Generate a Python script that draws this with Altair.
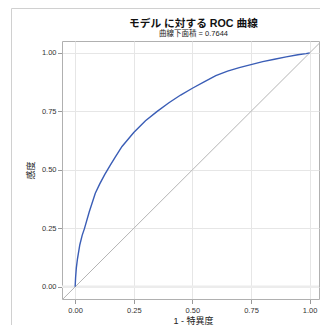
import altair as alt
import pandas as pd

# ROC curve points (1 - specificity, sensitivity)
fpr = [0.0, 0.002, 0.005, 0.010, 0.020, 0.030, 0.040, 0.060, 0.086, 0.105, 0.126,
       0.150, 0.171, 0.200, 0.250, 0.300, 0.350, 0.400, 0.450, 0.500, 0.550,
       0.600, 0.650, 0.700, 0.750, 0.800, 0.850, 0.900, 0.950, 0.985, 1.0]
tpr = [0.0, 0.04, 0.08, 0.12, 0.18, 0.22, 0.25, 0.32, 0.40, 0.44, 0.48,
       0.52, 0.555, 0.60, 0.66, 0.71, 0.75, 0.787, 0.82, 0.849, 0.876,
       0.903, 0.922, 0.937, 0.950, 0.963, 0.973, 0.983, 0.992, 0.997, 1.0]
diag = [-0.1, 1.1]
ticks = [0.0, 0.25, 0.5, 0.75, 1.0]
zero_ref = [0.0]

title_main = "モデル に対する ROC 曲線"
title_sub = "曲線下面積 = 0.7644"
x_title = "1 - 特異度"
y_title = "感度"

FONT = "Liberation Sans, Noto Sans CJK JP, sans-serif"

roc = pd.DataFrame({"fpr": fpr, "tpr": tpr})
dg = pd.DataFrame({"a": diag, "b": diag})
zr = pd.DataFrame({"y": zero_ref})

W, H = 257, 258

xs = alt.Scale(domain=[-0.056, 1.04], nice=False, zero=False)
ys = alt.Scale(domain=[-0.052, 1.051], nice=False, zero=False)

xaxis = alt.Axis(values=ticks, format=".2f", title=x_title, titleX=131, titleY=21.5,
                 titleBaseline="middle", titleAlign="center", labelPadding=3)
yaxis = alt.Axis(values=ticks, format=".2f", title=y_title, titleX=-32, titleY=H / 2,
                 titleBaseline="middle", titleAlign="center", titleAngle=-90,
                 labelPadding=1.5)

zero_band = alt.Chart(zr).mark_rule(color="#ececec", strokeWidth=2.5).encode(
    y=alt.Y("y:Q", scale=ys, axis=yaxis)
)

diag_line = alt.Chart(dg).mark_line(color="#b4b4b4", strokeWidth=1, clip=True).encode(
    x=alt.X("a:Q", scale=xs, axis=xaxis),
    y=alt.Y("b:Q", scale=ys, axis=yaxis),
)

curve = alt.Chart(roc).mark_line(color="#3A5DB6", strokeWidth=1.4, clip=True).encode(
    x=alt.X("fpr:Q", scale=xs, axis=xaxis),
    y=alt.Y("tpr:Q", scale=ys, axis=yaxis),
    order="fpr:Q",
)

frame = alt.Chart(zr).mark_rect(fillOpacity=0, stroke="#d0d0d0", strokeWidth=1, clip=False).encode(
    x=alt.value(-50.5), x2=alt.value(300), y=alt.value(-32.5), y2=alt.value(400)
)

chart = alt.layer(zero_band, diag_line, curve, frame).properties(
    width=W,
    height=H,
    title=alt.Title(title_main, subtitle=title_sub, anchor="middle", frame="group",
                    fontSize=10.7, fontWeight="bold", font=FONT, color="#111111",
                    subtitleFontSize=7.5, subtitleFont=FONT, subtitleColor="#222222",
                    subtitlePadding=0, offset=-30, dx=3),
    autosize=alt.AutoSizeParams(type="none"),
    padding={"left": 54, "top": 33, "right": 1, "bottom": 26},
).configure_view(
    stroke="#b0b0b0", strokeWidth=1
).configure_axis(
    domain=False,
    grid=True, gridColor="#e6e6e6", gridWidth=1,
    tickColor="#9a9a9a", tickSize=4.5, ticks=True,
    labelFont=FONT, labelFontSize=7.5, labelColor="#333333",
    titleFont=FONT, titleFontSize=9, titleFontWeight="normal", titleColor="#222222",
)

chart.save("out.html", embed_options={"renderer": "svg", "actions": False})
